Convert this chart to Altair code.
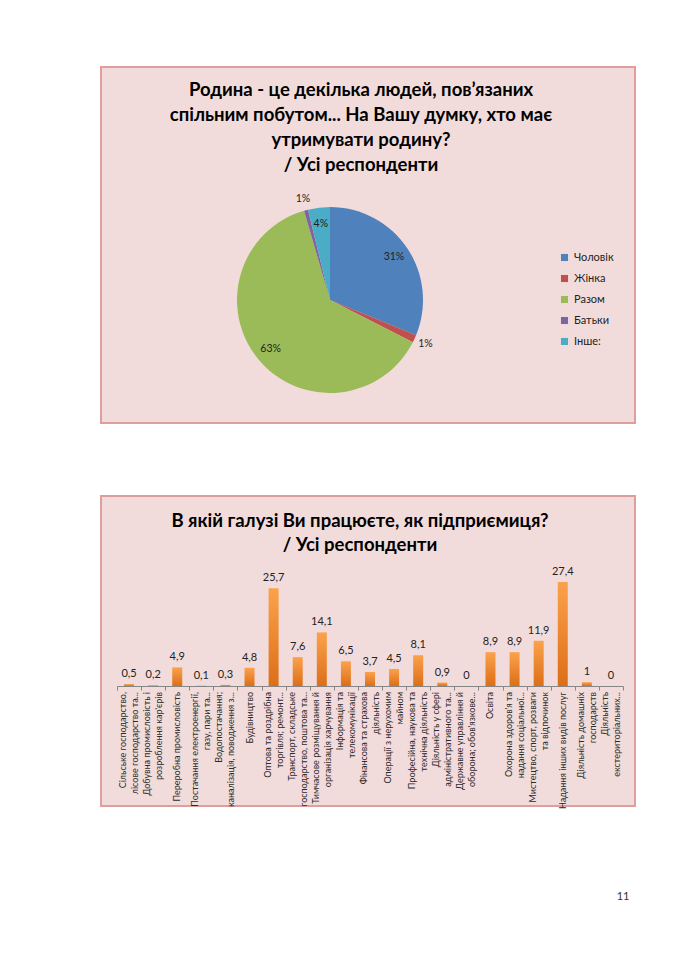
import altair as alt
import pandas as pd

# ---------------- data ----------------
pie_cats = ["Чоловік", "Жінка", "Разом", "Батьки", "Інше:"]
pie_vals = [31.2, 1.3, 63.0, 0.7, 3.8]
pie_colors = ["#4F81BD", "#C0504D", "#9BBB59", "#8064A2", "#4BACC6"]

bar_cats = [
    "Сільське господарство,\nлісове господарство та...",
    "Добувна промисловість і\nрозроблення кар'єрів",
    "Переробна промисловість",
    "Постачання електроенергії,\nгазу, пари та...",
    "Водопостачання;\nканалізація, поводження з...",
    "Будівництво",
    "Оптова та роздрібна\nторгівля; ремонт...",
    "Транспорт, складське\nгосподарство, поштова та...",
    "Тимчасове розміщування й\nорганізація харчування",
    "Інформація та\nтелекомунікації",
    "Фінансова та страхова\nдіяльність",
    "Операції з нерухомим\nмайном",
    "Професійна, наукова та\nтехнічна діяльність",
    "Діяльність у сфері\nадміністративного та...",
    "Державне управління й\nоборона; обов'язкове...",
    "Освіта",
    "Охорона здоров'я та\nнадання соціальної...",
    "Мистецтво, спорт, розваги\nта відпочинок",
    "Надання інших видів послуг",
    "Діяльність домашніх\nгосподарств",
    "Діяльність\nекстериторіальних...",
]
bar_vals = [0.5, 0.2, 4.9, 0.1, 0.3, 4.8, 25.7, 7.6, 14.1, 6.5, 3.7,
            4.5, 8.1, 0.9, 0, 8.9, 8.9, 11.9, 27.4, 1, 0]

pie_title = ["Родина - це декілька людей, пов’язаних",
             "спільним побутом... На Вашу думку, хто має",
             "утримувати родину?",
             "/ Усі респонденти"]
bar_title = ["В якій галузі Ви працюєте, як підприємиця?",
             "/ Усі респонденти"]
page_number = "11"

pie_df = pd.DataFrame({"cat": pie_cats, "v": pie_vals, "i": list(range(len(pie_cats)))})
bar_df = pd.DataFrame({"cat": bar_cats, "v": bar_vals})
one = alt.Data(values=[{"k": 1}])

PINK = "#F2DCDB"
BORDER = "#DE9E9D"
FONT = "Lato"

# ---------------- pie panel ----------------
pie_bg = alt.Chart(one).mark_rect(fill=PINK, stroke=BORDER, strokeWidth=2).encode(
    x=alt.value(-16), x2=alt.value(518), y=alt.value(0), y2=alt.value(356))

pie_head = alt.Chart(one).mark_text(
    fontSize=18.5, fontWeight="bold", lineHeight=25, align="center",
    baseline="middle", color="#000000").encode(
    x=alt.value(244), y=alt.value(23), text=alt.value(pie_title))

base = alt.Chart(pie_df).encode(
    theta=alt.Theta("v:Q", stack=True),
    order=alt.Order("i:Q"),
    x=alt.value(213), y=alt.value(233))

arc = base.mark_arc(outerRadius=93).encode(
    color=alt.Color("cat:N", sort=pie_cats,
                    scale=alt.Scale(domain=pie_cats, range=pie_colors),
                    legend=alt.Legend(orient="none", legendX=442, legendY=185,
                                      title=None, symbolType="square",
                                      symbolSize=50, symbolStrokeWidth=0,
                                      labelFontSize=11, labelColor="#222222",
                                      rowPadding=9, labelOffset=4)))

txt_in = base.transform_calculate(
    lbl="datum.v >= 3 ? format(datum.v / 100, '.0%') : ''"
).mark_text(radius=77, fontSize=10.5, color="#222222").encode(text="lbl:N")

txt_out = base.transform_calculate(
    lbl="datum.v < 3 ? format(datum.v / 100, '.0%') : ''"
).mark_text(radius=105, fontSize=10.5, color="#222222").encode(text="lbl:N")

pie = alt.layer(pie_bg, pie_head, arc, txt_in, txt_out).properties(width=506, height=356)

# ---------------- bar panel ----------------
bar_bg = alt.Chart(one).mark_rect(fill=PINK, stroke=BORDER, strokeWidth=2).encode(
    x=alt.value(-16), x2=alt.value(518), y=alt.value(-76), y2=alt.value(234))

bar_head = alt.Chart(one).mark_text(
    fontSize=18.5, fontWeight="bold", lineHeight=24, align="center",
    baseline="middle", color="#000000").encode(
    x=alt.value(243), y=alt.value(-51), text=alt.value(bar_title))

grad = alt.LinearGradient(
    gradient="linear",
    stops=[alt.GradientStop(offset=0, color="#FBA24C"),
           alt.GradientStop(offset=1, color="#DD6E18")],
    x1=0, x2=0, y1=0, y2=1)

xenc = alt.X("cat:N", sort=bar_cats, title=None,
             scale=alt.Scale(paddingInner=0, paddingOuter=0),
             axis=alt.Axis(labels=False, tickBand="extent", tickSize=4,
                           tickColor="#868686", domainColor="#868686", zindex=1))
yenc = alt.Y("v:Q", scale=alt.Scale(domain=[0, 30]), axis=None)

bars = alt.Chart(bar_df).mark_bar(size=10, color=grad).encode(x=xenc, y=yenc)

vals = alt.Chart(bar_df).transform_calculate(
    lbl="replace(toString(datum.v), '.', ',')"
).mark_text(dy=-5, baseline="bottom", fontSize=11, color="#222222").encode(
    x=alt.X("cat:N", sort=bar_cats), y=alt.Y("v:Q"), text="lbl:N")

# category labels (rotated, one- and two-line)
lab_style = dict(angle=270, align="right", baseline="middle", fontSize=9,
                 lineHeight=12, color="#2B2B2B")
lab_one = alt.Chart(bar_df).transform_filter(
    "indexof(datum.cat, '\\n') < 0"
).mark_text(**lab_style).encode(
    x=alt.X("cat:N", sort=bar_cats), y=alt.value(120), text="cat:N")
lab_two = alt.Chart(bar_df).transform_filter(
    "indexof(datum.cat, '\\n') >= 0"
).transform_calculate(
    lines="split(datum.cat, '\\n')"
).mark_text(dy=-6, **lab_style).encode(
    x=alt.X("cat:N", sort=bar_cats), y=alt.value(120), text="lines:N")

page_num = alt.Chart(one).mark_text(fontSize=11, color="#333333").encode(
    x=alt.value(506), y=alt.value(325), text=alt.value(page_number))

bar = alt.layer(bar_bg, bar_head, bars, vals, lab_one, lab_two, page_num).properties(
    width=506, height=114)

chart = alt.vconcat(pie, bar, spacing=149, bounds="flush").resolve_scale(
    color="independent"
).properties(
    padding={"left": 92, "top": 58, "right": 0, "bottom": 0},
    background="white"
).configure(font=FONT).configure_view(strokeWidth=0)

chart.save("out.html", embed_options={"renderer": "svg", "actions": False})
